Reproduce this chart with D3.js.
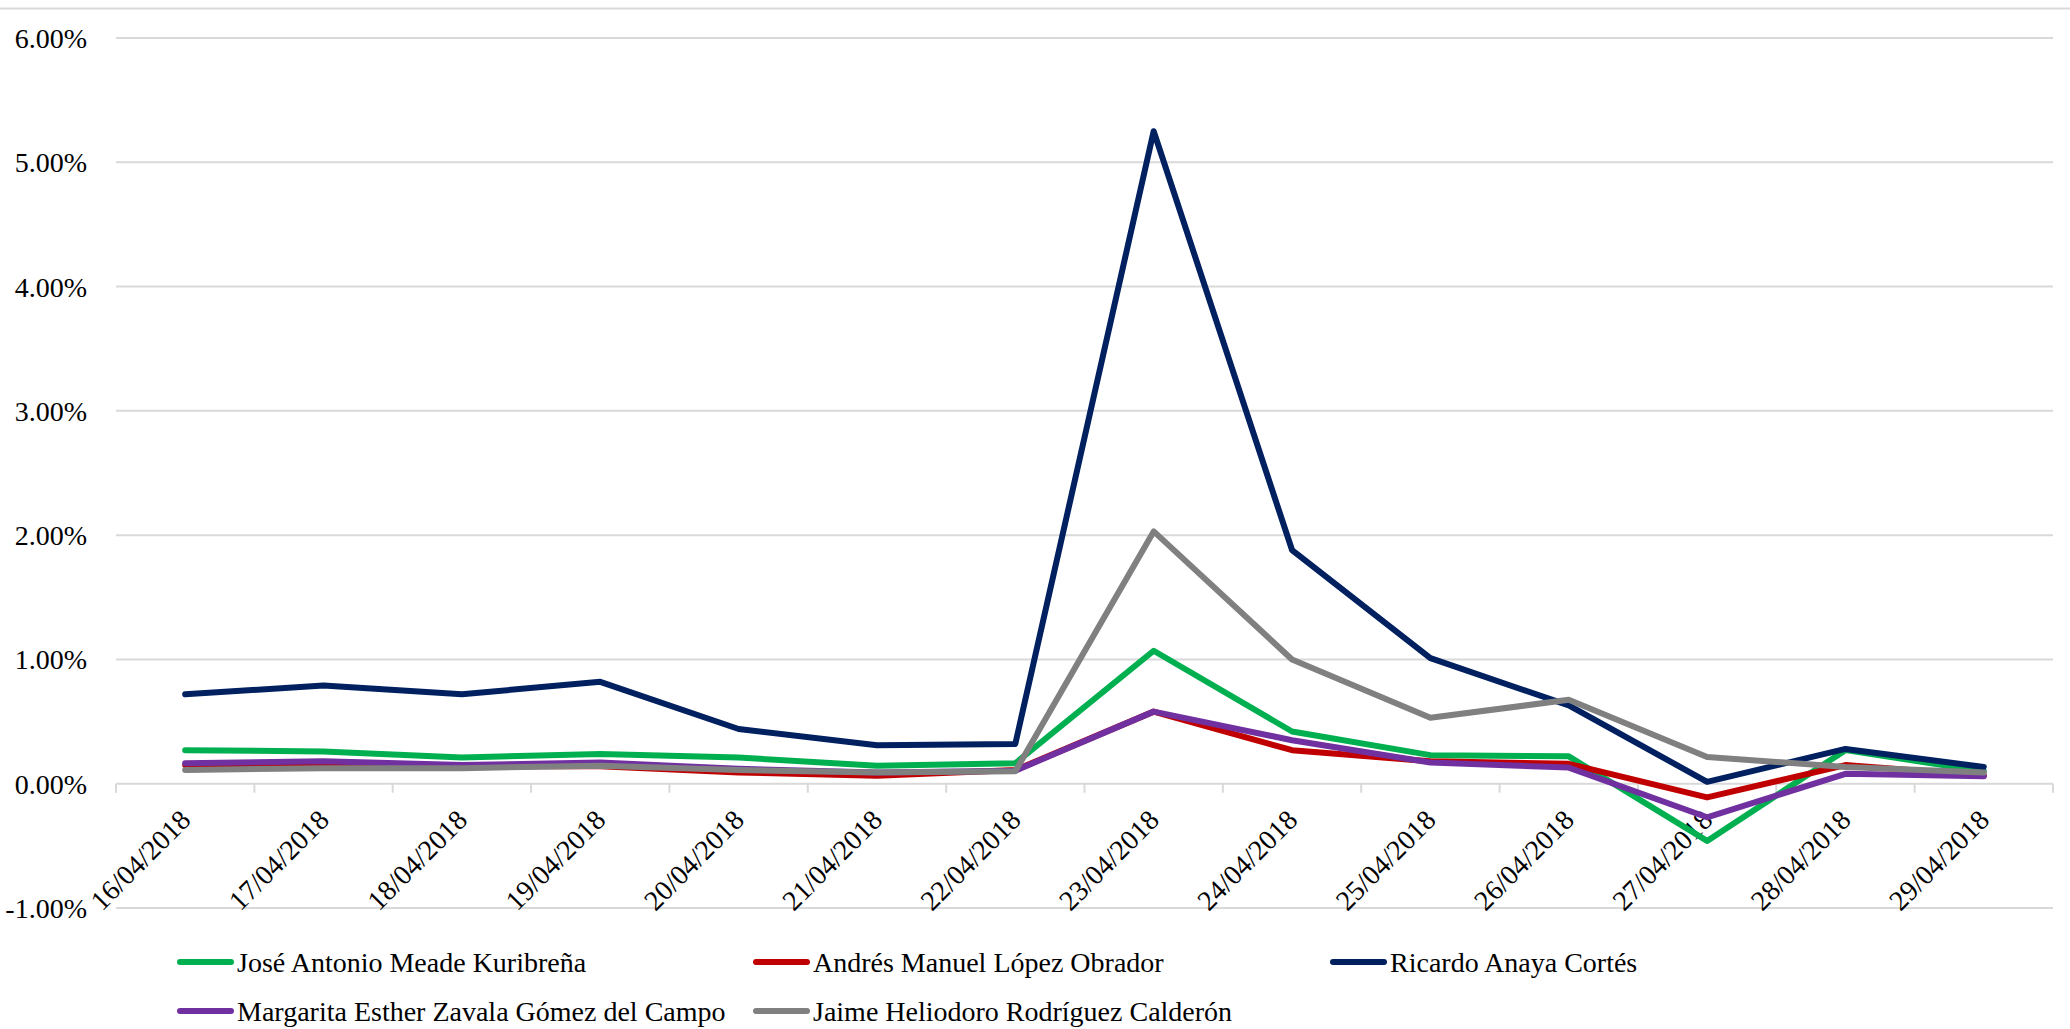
<!DOCTYPE html>
<html>
<head>
<meta charset="utf-8">
<script src="https://cdn.jsdelivr.net/npm/d3@7"></script>
<style>
  html, body { margin: 0; padding: 0; background: #fff; }
  svg { display: block; }
  text { font-family: "Liberation Serif", "Times New Roman", serif; fill: #000; }
</style>
</head>
<body>
<svg id="chart" width="2070" height="1029"></svg>
<script>
const dates = ["16/04/2018","17/04/2018","18/04/2018","19/04/2018","20/04/2018","21/04/2018","22/04/2018","23/04/2018","24/04/2018","25/04/2018","26/04/2018","27/04/2018","28/04/2018","29/04/2018"];
const yTicks = [-0.01, 0, 0.01, 0.02, 0.03, 0.04, 0.05, 0.06];

const meade   = [0.0027, 0.0026, 0.0021, 0.0024, 0.0021, 0.00145, 0.00165, 0.0107, 0.0042, 0.0023, 0.0022, -0.0046, 0.0027, 0.0010];
const amlo    = [0.0015, 0.0015, 0.0014, 0.0014, 0.0009, 0.00065, 0.0011, 0.0058, 0.0027, 0.0018, 0.0016, -0.0011, 0.0015, 0.00065];
const anaya   = [0.0072, 0.0079, 0.0072, 0.0082, 0.0044, 0.0031, 0.0032, 0.0525, 0.0188, 0.0101, 0.0063, 0.00015, 0.0028, 0.00135];
const zavala  = [0.00165, 0.0018, 0.0015, 0.0017, 0.0012, 0.0009, 0.00105, 0.0058, 0.0035, 0.0017, 0.0013, -0.0027, 0.0008, 0.0006];
const jaime   = [0.0011, 0.00125, 0.00125, 0.00145, 0.0011, 0.0009, 0.0010, 0.0203, 0.0100, 0.0053, 0.00675, 0.00215, 0.00135, 0.0009];

const seriesNames = ["José Antonio Meade Kuribreña", "Andrés Manuel López Obrador", "Ricardo Anaya Cortés", "Margarita Esther Zavala Gómez del Campo", "Jaime Heliodoro Rodríguez Calderón"];
const seriesColors = ["#00B050", "#C00000", "#002060", "#7030A0", "#808080"];
const seriesValues = [meade, amlo, anaya, zavala, jaime];

(function () {
const svg = d3.select("#chart");
const plotLeft = 116, plotRight = 2053, plotTop = 38, plotBottom = 908;

const xBand = d3.scaleBand().domain(dates).range([plotLeft, plotRight]).padding(0);
const xc = d => xBand(d) + xBand.bandwidth() / 2;
const y = d3.scaleLinear().domain([-0.01, 0.06]).range([plotBottom, plotTop]);

// top border
svg.append("line").attr("x1", 0).attr("x2", 2070).attr("y1", 8.5).attr("y2", 8.5)
  .attr("stroke", "#D9D9D9").attr("stroke-width", 2);

// gridlines
svg.append("g").selectAll("line").data(yTicks).join("line")
  .attr("x1", plotLeft).attr("x2", plotRight)
  .attr("y1", d => y(d)).attr("y2", d => y(d))
  .attr("stroke", "#D9D9D9").attr("stroke-width", 2);

// y labels
const pct = d3.format(".2%");
svg.append("g").selectAll("text").data(yTicks).join("text")
  .attr("x", 87).attr("y", d => y(d) + 10)
  .attr("text-anchor", "end").attr("font-size", 28)
  .text(d => pct(d).replace("−", "-"));

// x axis ticks at band boundaries
const y0 = y(0);
const tickPos = dates.map(d => xBand(d)).concat([plotRight]);
svg.append("g").selectAll("line").data(tickPos).join("line")
  .attr("x1", d => d).attr("x2", d => d)
  .attr("y1", y0).attr("y2", y0 + 9)
  .attr("stroke", "#D9D9D9").attr("stroke-width", 2);

// x labels
svg.append("g").selectAll("text").data(dates).join("text")
  .attr("transform", d => `translate(${xc(d) + 7},${y0 + 38}) rotate(-45)`)
  .attr("text-anchor", "end").attr("font-size", 28)
  .text(d => d);

// lines
const line = d3.line().x((d, i) => xc(dates[i])).y(d => y(d));
seriesValues.forEach((vals, k) => {
  svg.append("path").datum(vals)
    .attr("d", line)
    .attr("fill", "none")
    .attr("stroke", seriesColors[k])
    .attr("stroke-width", 6)
    .attr("stroke-linejoin", "round")
    .attr("stroke-linecap", "round");
});

// legend
const legendPos = [[178, 962], [754, 962], [1331, 962], [178, 1011], [754, 1011]];
seriesNames.forEach((name, k) => {
  const [lx, ly] = legendPos[k];
  svg.append("line").attr("x1", lx + 2).attr("x2", lx + 53).attr("y1", ly).attr("y2", ly)
    .attr("stroke", seriesColors[k]).attr("stroke-width", 6).attr("stroke-linecap", "round");
  svg.append("text").attr("x", lx + 59).attr("y", ly + 10).attr("font-size", 28).text(name);
});
})();
</script>
</body>
</html>
